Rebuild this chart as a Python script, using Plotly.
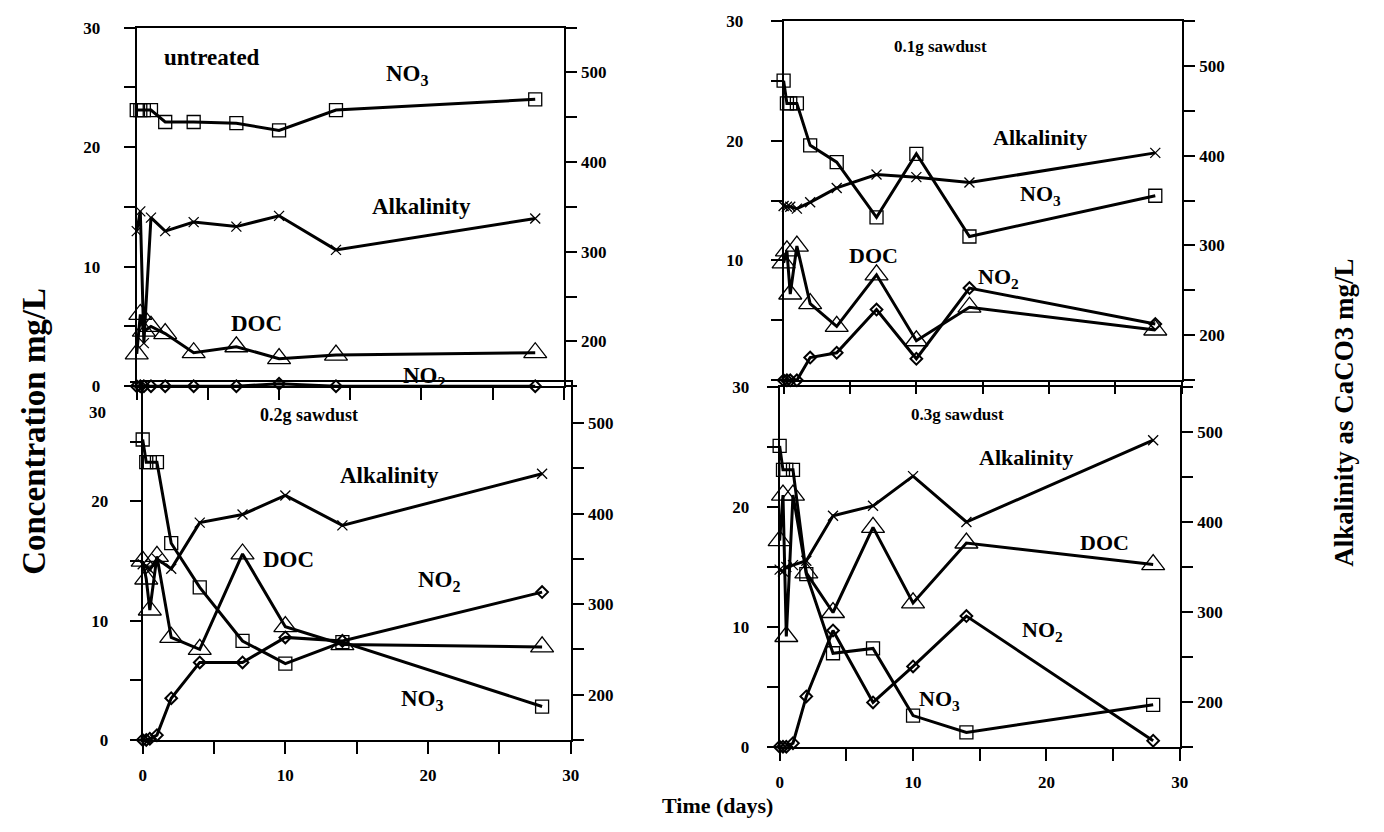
import plotly.graph_objects as go

W, H = 1384, 832
FONT = "Liberation Serif"

# ---------------- data ----------------
days = [0, 0.25, 0.5, 1, 2, 4, 7, 10, 14, 28]

# untreated
u_no3 = [23.1, 23.1, 23.1, 23.1, 22.1, 22.1, 22.0, 21.4, 23.1, 24.0]
u_no2 = [0, 0, 0, 0, 0, 0, 0, 0.2, 0, 0]
u_doc = [2.7, 6.0, 4.6, 5.0, 4.4, 2.8, 3.3, 2.3, 2.6, 2.8]
u_alk = [323, 345, 198, 338, 323, 333, 328, 340, 302, 337]

# 0.1 g sawdust
s1_no3 = [25.0, 23.1, 23.1, 23.1, 19.6, 18.2, 13.6, 18.9, 12.0, 15.4]
s1_no2 = [0, 0, 0, 0, 1.9, 2.3, 5.9, 1.8, 7.7, 4.7]
s1_doc = [9.8, 10.8, 7.2, 11.2, 6.4, 4.5, 8.8, 3.3, 6.1, 4.2]
s1_alk = [344, 343, 343, 341, 348, 364, 379, 376, 370, 403]

# 0.2 g sawdust
s2_no3 = [25.2, 23.3, 23.3, 23.3, 16.5, 12.8, 8.3, 6.4, 8.2, 2.8]
s2_no2 = [0, 0, 0.1, 0.4, 3.5, 6.5, 6.5, 8.6, 8.3, 12.4]
s2_doc = [15.0, 13.5, 10.9, 15.4, 8.6, 7.6, 15.6, 9.5, 8.0, 7.8]
s2_alk = [344, 342, 338, 350, 339, 390, 399, 420, 387, 444]

# 0.3 g sawdust
s3_no3 = [25.1, 23.1, 23.1, 23.1, 14.4, 7.8, 8.2, 2.6, 1.2, 3.5]
s3_no2 = [0, 0, 0, 0.3, 4.2, 9.7, 3.7, 6.7, 10.9, 0.5]
s3_doc = [17.2, 21.0, 9.2, 21.0, 14.5, 11.2, 18.3, 12.0, 17.0, 15.2]
s3_alk = [347, 345, 350, 352, 357, 407, 418, 451, 400, 491]

x_ticks = [0, 5, 10, 15, 20, 25, 30]
x_text = ["0", "", "10", "", "20", "", "30"]
yl_ticks = [0, 5, 10, 15, 20, 25, 30]
yr_ticks = [150, 200, 250, 300, 350, 400, 450, 500, 550]
yr_text = ["", "200", "", "300", "", "400", "", "500", ""]


def px(x):
    return x / W


def py(y):
    return 1 - y / H


# panel geometry (pixels): left, right, top, bottom
panels = [
    dict(data=(u_no3, u_no2, u_doc, u_alk), box=(134, 565, 19, 386), rr=[150, 550],
         xlabels=False, yl_text=["0", "", "10", "", "20", "", "30"], lstand=20),
    dict(data=(s1_no3, s1_no2, s1_doc, s1_alk), box=(787, 1189, 12, 380), rr=[150, 550],
         xlabels=False, yl_text=["", "", "10", "", "20", "", "30"], lstand=24),
    dict(data=(s2_no3, s2_no2, s2_doc, s2_alk), box=(140, 572, 382, 748), rr=[150, 545],
         xlabels=True, yl_text=["0", "", "10", "", "20", "", ""], lstand=18),
    dict(data=(s3_no3, s3_no2, s3_doc, s3_alk), box=(783, 1187, 387, 755), rr=[150, 550],
         xlabels=True, yl_text=["0", "", "10", "", "20", "", "30"], lstand=14),
]

tickfont = dict(family=FONT, size=17, color="black", weight="bold")
line = dict(color="black", width=3)

fig = go.Figure()
layout = {}

for i, p in enumerate(panels, start=1):
    l, r, t, b = p["box"]
    xa = "x" if i == 1 else f"x{i}"
    ya = "y" if i == 1 else f"y{i}"
    yr = f"y{i + 4}"
    no3, no2, doc, alk = p["data"]

    layout["xaxis" if i == 1 else f"xaxis{i}"] = dict(
        domain=[px(l), px(r)], range=[0, 30], anchor=ya,
        showline=True, linewidth=2, linecolor="black", mirror=True,
        ticks="outside", ticklen=12, tickwidth=1.5, tickcolor="black",
        tickvals=x_ticks, ticktext=x_text, showticklabels=p["xlabels"],
        ticklabelstandoff=7, tickfont=tickfont,
        showgrid=False, zeroline=False,
    )
    layout["yaxis" if i == 1 else f"yaxis{i}"] = dict(
        domain=[py(b), py(t)], range=[0, 30], anchor=xa,
        showline=True, linewidth=2, linecolor="black",
        ticks="outside", ticklen=11, tickwidth=1.5, tickcolor="black",
        tickvals=yl_ticks, ticktext=p["yl_text"], tickfont=tickfont,
        ticklabelstandoff=p["lstand"],
        showgrid=False, zeroline=False,
    )
    layout[f"yaxis{i + 4}"] = dict(
        domain=[py(b), py(t)], range=p["rr"], anchor=xa, overlaying=ya, side="right",
        showline=True, linewidth=2, linecolor="black",
        ticks="outside", ticklen=11, tickwidth=1.5, tickcolor="black",
        tickvals=yr_ticks, ticktext=yr_text, tickfont=tickfont,
        ticklabelstandoff=1,
        showgrid=False, zeroline=False,
    )

    common = dict(mode="lines+markers", line=line, cliponaxis=False, showlegend=False)
    fig.add_trace(go.Scatter(x=days, y=doc, xaxis=xa, yaxis=ya,
                             marker=dict(symbol="triangle-up-open", size=20, color="black",
                                         line=dict(width=1.3, color="black")), **common))
    fig.add_trace(go.Scatter(x=days, y=no3, xaxis=xa, yaxis=ya,
                             marker=dict(symbol="square-open", size=13, color="black",
                                         line=dict(width=1.3, color="black")), **common))
    fig.add_trace(go.Scatter(x=days, y=no2, xaxis=xa, yaxis=ya,
                             marker=dict(symbol="diamond-open", size=9, color="black",
                                         line=dict(width=2, color="black")), **common))
    fig.add_trace(go.Scatter(x=days, y=alk, xaxis=xa, yaxis=yr,
                             marker=dict(symbol="x-thin-open", size=10, color="black",
                                         line=dict(width=1.3, color="black")), **common))


def lab(text, x, y, size, xanchor="left", angle=0):
    return dict(text=f"<b>{text}</b>", x=px(x), y=py(y), xref="paper", yref="paper",
                xanchor=xanchor, yanchor="middle", showarrow=False, textangle=angle,
                font=dict(family=FONT, size=size, color="black"))


NO3 = "NO<sub>3</sub>"
NO2 = "NO<sub>2</sub>"
annotations = [
    # untreated
    lab("untreated", 159, 50, 23),
    lab(NO3, 384, 68, 23),
    lab("Alkalinity", 369, 202, 23),
    lab("DOC", 227, 322, 23),
    lab(NO2, 401, 377, 23),
    # 0.1 g
    lab("0.1g sawdust", 896, 38, 17),
    lab("Alkalinity", 996, 132, 22),
    lab(NO3, 1024, 190, 22),
    lab("DOC", 851, 252, 22),
    lab(NO2, 981, 275, 22),
    # 0.2 g
    lab("0.2g sawdust", 256, 415, 18),
    lab("Alkalinity", 337, 477, 23),
    lab("DOC", 259, 563, 23),
    lab(NO2, 416, 585, 23),
    lab(NO3, 399, 707, 23),
    # 0.3 g
    lab("0.3g sawdust", 914, 415, 17),
    lab("Alkalinity", 982, 459, 22),
    lab("DOC", 1084, 546, 22),
    lab(NO2, 1026, 637, 22),
    lab(NO3, 922, 707, 22),
    # shifted top tick label of 0.2 g panel
    dict(text="<b>30</b>", x=px(105), y=py(413), xref="paper", yref="paper",
         xanchor="right", yanchor="middle", showarrow=False,
         font=dict(family=FONT, size=17, color="black")),
    # axis titles
    lab("Concentration mg/L", 30, 432, 33, xanchor="center", angle=-90),
    lab("Alkalinity as CaCO3 mg/L", 1352, 413, 27, xanchor="center", angle=-90),
    lab("Time (days)", 720, 815, 22, xanchor="center"),
]

fig.update_layout(
    width=W, height=H,
    margin=dict(l=0, r=0, t=0, b=0),
    paper_bgcolor="white", plot_bgcolor="rgba(0,0,0,0)",
    showlegend=False,
    annotations=annotations,
    **layout,
)

fig.write_html("out.html")
